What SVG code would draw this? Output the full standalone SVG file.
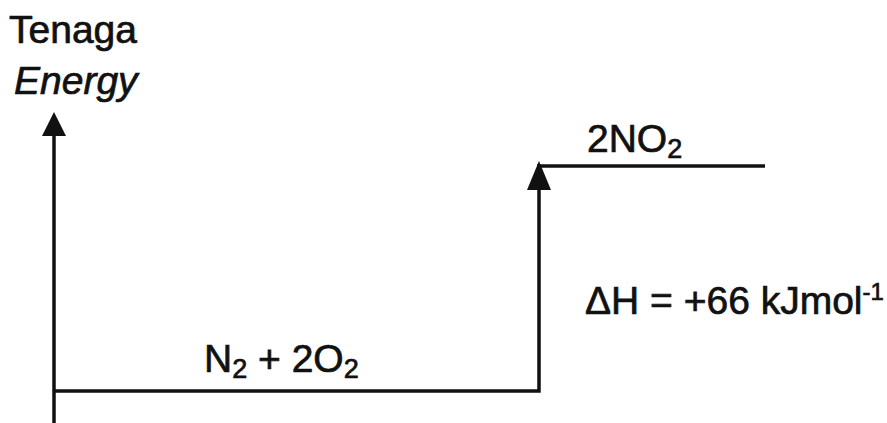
<svg xmlns="http://www.w3.org/2000/svg" width="887" height="423" viewBox="0 0 887 423">
<style>
  .t { font-family: "Liberation Sans", Arial, sans-serif; font-size: 39px; fill: #111; stroke: #111; stroke-width: 0.7; }
  .ln { stroke: #111; stroke-width: 3.5; fill: none; }
  .ah { fill: #111; }
</style>
<rect width="887" height="423" fill="#fff"/>
<g id="axis">
  <line class="ln" x1="54" y1="423" x2="54" y2="130"/>
  <polygon class="ah" points="54,112 42,136 66,136"/>
  <text class="t" x="9" y="43">Tenaga</text>
  <text class="t" x="14" y="94" font-style="italic">Energy</text>
</g>
<g id="reactants">
  <text class="t" x="204" y="372">N<tspan font-size="27" dy="6">2</tspan><tspan dy="-6"> + 2O</tspan><tspan font-size="27" dy="6">2</tspan></text>
</g>
<g id="products">
  <line class="ln" x1="537" y1="166" x2="765" y2="166"/>
  <text class="t" x="587" y="152">2NO<tspan font-size="27" dy="6">2</tspan></text>
</g>
<g id="connectors">
  <path class="ln" d="M54,391 H539 V185" stroke-linejoin="miter"/>
  <polygon class="ah" points="539,161 527,190 551,190"/>
</g>
<g id="deltaH">
  <text class="t" x="585" y="314">ΔH = +66 kJmol<tspan font-size="24" dy="-14">-1</tspan></text>
</g>
</svg>
